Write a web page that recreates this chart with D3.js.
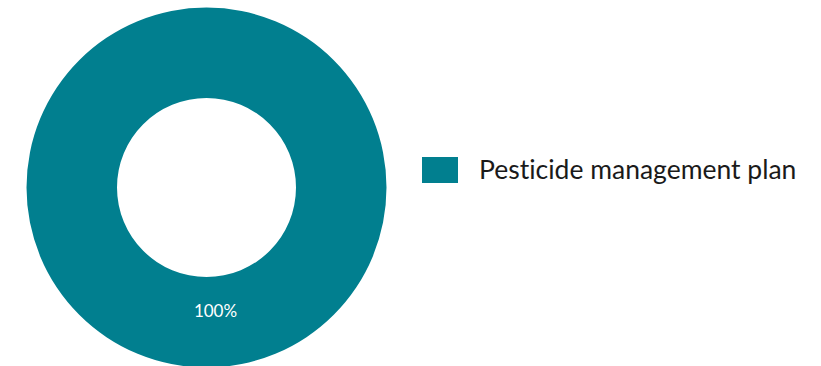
<!DOCTYPE html>
<html>
<head>
<meta charset="utf-8">
<script src="https://cdn.jsdelivr.net/npm/d3@7/dist/d3.min.js"></script>
<style>
  html, body { margin: 0; padding: 0; background: #fff; }
  svg { display: block; font-family: Lato, "Open Sans", sans-serif; font-variant-ligatures: none; }
</style>
</head>
<body>
<svg id="chart" width="821" height="366"></svg>
<script>
// Share of sites by measure in place
const categories = ["Pesticide management plan"];
const values = [100];
const colors = ["#017F8F"];

const svg = d3.select("#chart");
const cx = 206.5, cy = 187.5;
const outerR = 180, innerR = 89.5;

const pie = d3.pie().sort(null).value(d => d.value);
const arcs = pie(categories.map((c, i) => ({ name: c, value: values[i] })));
const arc = d3.arc().innerRadius(innerR).outerRadius(outerR);

const g = svg.append("g").attr("transform", `translate(${cx},${cy})`);
g.selectAll("path.slice")
  .data(arcs)
  .join("path")
  .attr("class", "slice")
  .attr("d", arc)
  .attr("fill", (d, i) => colors[i]);

const total = d3.sum(values);
g.selectAll("text.pct")
  .data(arcs)
  .join("text")
  .attr("class", "pct")
  .attr("transform", d => {
    const [x, y] = arc.centroid(d);
    return `translate(${x + 9},${y - 12})`;
  })
  .attr("text-anchor", "middle")
  .attr("dominant-baseline", "central")
  .attr("fill", "#ffffff")
  .attr("font-size", 17)
  .text(d => Math.round(d.data.value / total * 100) + "%");

// Legend
const legend = svg.append("g").attr("transform", "translate(422,157)");
const item = legend.selectAll("g.item")
  .data(categories)
  .join("g")
  .attr("class", "item")
  .attr("transform", (d, i) => `translate(0,${i * 34})`);
item.append("rect")
  .attr("width", 36).attr("height", 26)
  .attr("fill", (d, i) => colors[i]);
item.append("text")
  .attr("x", 57).attr("y", 22)
  .attr("fill", "#1a1a1a")
  .attr("font-size", 26.5)
  .text(d => d);
</script>
</body>
</html>
